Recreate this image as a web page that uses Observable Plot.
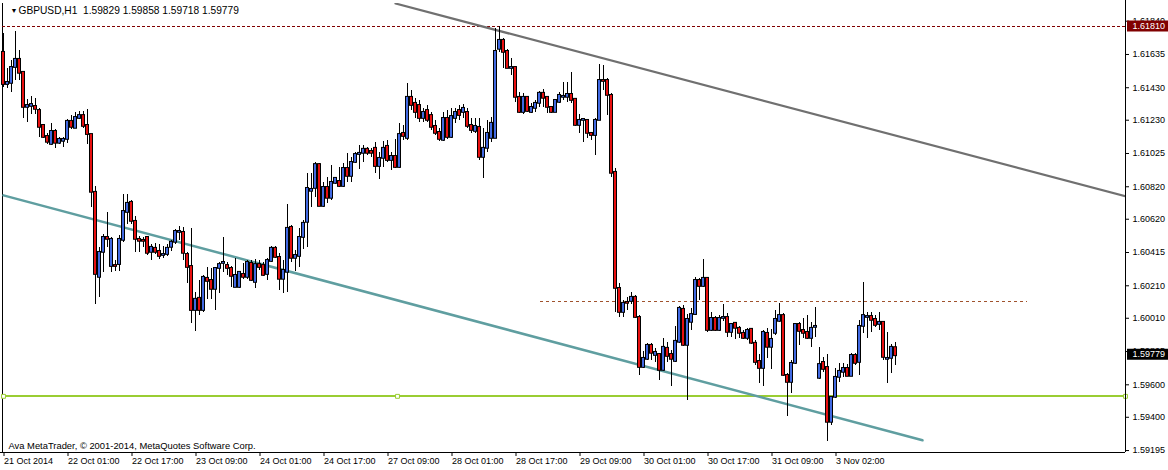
<!DOCTYPE html>
<html><head><meta charset="utf-8">
<script src="https://cdn.jsdelivr.net/npm/d3@7"></script>
<script src="https://cdn.jsdelivr.net/npm/@observablehq/plot@0.6"></script>
<style>html,body{margin:0;padding:0;background:#fff;overflow:hidden}</style>
</head><body><div id="chart"></div>
<script>
const titleText = "GBPUSD,H1  1.59829 1.59858 1.59718 1.59779";
const copyrightText = "Ava MetaTrader, \u00a9 2001-2014, MetaQuotes Software Corp.";
const timeLabels = ["21 Oct 2014","22 Oct 01:00","22 Oct 17:00","23 Oct 09:00","24 Oct 01:00","24 Oct 17:00","27 Oct 09:00","28 Oct 01:00","28 Oct 17:00","29 Oct 09:00","30 Oct 01:00","30 Oct 17:00","31 Oct 09:00","3 Nov 02:00"];
const barsPerLabel = 16;
const priceTicks = [1.61840,1.61635,1.61430,1.61230,1.61025,1.60820,1.60620,1.60415,1.60210,1.60010,1.59805,1.59600,1.59400,1.59195];

const open = [1.61648,1.61450,1.61457,1.61555,1.61605,1.61525,1.61309,1.61315,1.61315,1.61290,1.61198,1.61130,1.61081,1.61161,1.61088,1.61100,1.61112,1.61223,1.61180,1.61241,1.61259,1.61198,1.61142,1.60786,1.60262,1.60416,1.60508,1.60329,1.60335,1.60341,1.60490,1.60662,1.60724,1.60607,1.60496,1.60490,1.60508,1.60416,1.60441,1.60422,1.60397,1.60403,1.60447,1.60478,1.60539,1.60539,1.60403,1.60329,1.60058,1.60133,1.60058,1.60256,1.60243,1.60188,1.60317,1.60348,1.60335,1.60317,1.60200,1.60200,1.60280,1.60262,1.60348,1.60231,1.60341,1.60335,1.60280,1.60360,1.60441,1.60385,1.60250,1.60293,1.60570,1.60379,1.60391,1.60508,1.60601,1.60792,1.60810,1.60957,1.60699,1.60816,1.60749,1.60841,1.60853,1.60822,1.60933,1.60884,1.60970,1.61019,1.61026,1.61051,1.61038,1.61057,1.60945,1.60995,1.61069,1.60982,1.61007,1.60939,1.61149,1.61118,1.61371,1.61334,1.61321,1.61241,1.61290,1.61259,1.61192,1.61155,1.61106,1.61241,1.61124,1.61241,1.61290,1.61278,1.61278,1.61198,1.61161,1.61186,1.61001,1.61057,1.61118,1.61118,1.61667,1.61722,1.61654,1.61549,1.61555,1.61371,1.61278,1.61371,1.61278,1.61303,1.61334,1.61396,1.61371,1.61309,1.61278,1.61340,1.61371,1.61371,1.61389,1.61359,1.61198,1.61229,1.61229,1.61149,1.61136,1.61229,1.61475,1.61475,1.61383,1.60909,1.60194,1.60046,1.60108,1.60114,1.60139,1.60015,1.59707,1.59757,1.59843,1.59781,1.59787,1.59689,1.59825,1.59787,1.59744,1.59862,1.60065,1.59843,1.59985,1.60033,1.60243,1.60206,1.60256,1.59935,1.60009,1.59935,1.60009,1.60015,1.59923,1.59979,1.59948,1.59917,1.59886,1.59942,1.59856,1.59744,1.59701,1.59917,1.59831,1.59917,1.59991,1.60027,1.59658,1.59615,1.59732,1.59972,1.59935,1.59923,1.59886,1.59954,1.59640,1.59738,1.59707,1.59369,1.59523,1.59646,1.59677,1.59701,1.59652,1.59781,1.59738,1.59960,1.60015,1.60021,1.60003,1.59972,1.59985,1.59757,1.59763,1.59829];
const high = [1.61765,1.61549,1.61598,1.61777,1.61660,1.61525,1.61359,1.61377,1.61365,1.61303,1.61204,1.61149,1.61211,1.61174,1.61124,1.61124,1.61235,1.61259,1.61278,1.61284,1.61284,1.61297,1.61142,1.60822,1.60447,1.60526,1.60662,1.60508,1.60366,1.60520,1.60773,1.60773,1.60736,1.60637,1.60514,1.60508,1.60514,1.60465,1.60472,1.60465,1.60453,1.60465,1.60490,1.60558,1.60576,1.60570,1.60416,1.60564,1.60170,1.60243,1.60274,1.60323,1.60317,1.60323,1.60354,1.60508,1.60354,1.60329,1.60379,1.60293,1.60348,1.60366,1.60366,1.60373,1.60366,1.60354,1.60379,1.60453,1.60453,1.60410,1.60366,1.60711,1.60582,1.60428,1.60564,1.60613,1.60903,1.60903,1.60970,1.60964,1.60847,1.60878,1.60951,1.60878,1.60939,1.60964,1.61026,1.61001,1.61032,1.61075,1.61075,1.61063,1.61057,1.61094,1.61032,1.61100,1.61106,1.61032,1.61112,1.61211,1.61198,1.61457,1.61414,1.61365,1.61352,1.61303,1.61321,1.61278,1.61229,1.61180,1.61278,1.61290,1.61303,1.61303,1.61321,1.61327,1.61303,1.61241,1.61241,1.61241,1.61180,1.61229,1.61247,1.61796,1.61810,1.61734,1.61667,1.61611,1.61561,1.61402,1.61396,1.61377,1.61334,1.61352,1.61408,1.61420,1.61371,1.61315,1.61359,1.61402,1.61463,1.61463,1.61525,1.61365,1.61265,1.61241,1.61229,1.61155,1.61241,1.61573,1.61567,1.61488,1.61396,1.60933,1.60225,1.60120,1.60139,1.60170,1.60151,1.60027,1.59806,1.59856,1.59856,1.59825,1.59794,1.59886,1.59862,1.59812,1.59960,1.60083,1.60089,1.60033,1.60071,1.60262,1.60256,1.60373,1.60262,1.60046,1.60021,1.60027,1.60095,1.60040,1.59979,1.59985,1.59960,1.59935,1.59948,1.59948,1.59874,1.59787,1.59935,1.59948,1.59942,1.60058,1.60102,1.60040,1.59671,1.59750,1.59979,1.59985,1.60009,1.60027,1.59985,1.60077,1.59831,1.59769,1.59787,1.59523,1.59701,1.59732,1.59732,1.59725,1.59794,1.59794,1.59997,1.60231,1.60046,1.60046,1.60027,1.60046,1.59985,1.59923,1.59849,1.59858];
const low = [1.61432,1.61426,1.61402,1.61475,1.61475,1.61241,1.61217,1.61265,1.61265,1.61124,1.61118,1.61081,1.61075,1.61057,1.61081,1.61063,1.61088,1.61174,1.61180,1.61235,1.61180,1.61081,1.60693,1.60095,1.60139,1.60293,1.60447,1.60293,1.60299,1.60299,1.60478,1.60588,1.60588,1.60416,1.60416,1.60447,1.60397,1.60366,1.60403,1.60373,1.60379,1.60391,1.60422,1.60465,1.60490,1.60366,1.60225,1.59979,1.59929,1.60027,1.60046,1.60127,1.60127,1.60058,1.60164,1.60293,1.60274,1.60200,1.60200,1.60194,1.60250,1.60250,1.60237,1.60194,1.60305,1.60268,1.60243,1.60354,1.60379,1.60182,1.60164,1.60170,1.60354,1.60299,1.60323,1.60435,1.60447,1.60693,1.60755,1.60699,1.60693,1.60718,1.60736,1.60834,1.60816,1.60816,1.60847,1.60847,1.60964,1.60927,1.60970,1.61013,1.61001,1.60903,1.60866,1.60939,1.60970,1.60921,1.60933,1.60933,1.61106,1.61106,1.61290,1.61241,1.61217,1.61217,1.61217,1.61167,1.61136,1.61100,1.61100,1.61112,1.61118,1.61211,1.61229,1.61241,1.61180,1.61149,1.61149,1.60982,1.60872,1.61032,1.61094,1.61118,1.61648,1.61549,1.61549,1.61506,1.61340,1.61272,1.61265,1.61278,1.61272,1.61278,1.61309,1.61309,1.61272,1.61272,1.61278,1.61334,1.61352,1.61340,1.61334,1.61192,1.61149,1.61094,1.61118,1.61106,1.61013,1.61229,1.61414,1.61259,1.60878,1.60046,1.60015,1.60015,1.60058,1.60095,1.60009,1.59658,1.59701,1.59750,1.59750,1.59738,1.59627,1.59683,1.59738,1.59590,1.59738,1.59856,1.59837,1.59504,1.59935,1.60027,1.60120,1.60200,1.59923,1.59929,1.59929,1.59929,1.59991,1.59892,1.59892,1.59880,1.59886,1.59880,1.59874,1.59849,1.59719,1.59609,1.59590,1.59763,1.59695,1.59904,1.59985,1.59652,1.59405,1.59548,1.59725,1.59843,1.59886,1.59880,1.59831,1.59892,1.59634,1.59677,1.59252,1.59350,1.59517,1.59615,1.59646,1.59652,1.59652,1.59719,1.59658,1.59917,1.59886,1.59923,1.59954,1.59935,1.59750,1.59609,1.59671,1.59718];
const close = [1.61450,1.61463,1.61555,1.61605,1.61519,1.61309,1.61321,1.61327,1.61297,1.61186,1.61124,1.61094,1.61161,1.61088,1.61112,1.61112,1.61223,1.61186,1.61247,1.61259,1.61192,1.61142,1.60786,1.60280,1.60416,1.60508,1.60496,1.60496,1.60329,1.60496,1.60668,1.60718,1.60607,1.60496,1.60484,1.60484,1.60410,1.60447,1.60416,1.60391,1.60403,1.60441,1.60478,1.60545,1.60545,1.60410,1.60323,1.60058,1.60127,1.60058,1.60262,1.60237,1.60188,1.60317,1.60341,1.60354,1.60317,1.60268,1.60274,1.60293,1.60262,1.60354,1.60243,1.60341,1.60323,1.60274,1.60366,1.60441,1.60385,1.60250,1.60305,1.60564,1.60379,1.60397,1.60508,1.60595,1.60810,1.60804,1.60957,1.60699,1.60816,1.60749,1.60847,1.60872,1.60822,1.60933,1.60884,1.60970,1.61019,1.61026,1.61051,1.61026,1.61026,1.60945,1.60995,1.61057,1.60982,1.61007,1.60939,1.61142,1.61130,1.61371,1.61321,1.61278,1.61241,1.61278,1.61229,1.61186,1.61149,1.61112,1.61241,1.61124,1.61253,1.61278,1.61259,1.61303,1.61192,1.61167,1.61192,1.61001,1.61057,1.61149,1.61211,1.61654,1.61722,1.61648,1.61549,1.61555,1.61371,1.61278,1.61371,1.61284,1.61309,1.61334,1.61396,1.61365,1.61309,1.61278,1.61352,1.61383,1.61377,1.61389,1.61352,1.61198,1.61229,1.61235,1.61149,1.61136,1.61229,1.61475,1.61469,1.61383,1.60903,1.60194,1.60046,1.60102,1.60102,1.60139,1.60015,1.59707,1.59763,1.59843,1.59794,1.59800,1.59689,1.59831,1.59775,1.59757,1.59868,1.60071,1.59843,1.60003,1.60033,1.60243,1.60206,1.60256,1.59935,1.60009,1.59935,1.60009,1.60015,1.59923,1.59972,1.59948,1.59917,1.59886,1.59935,1.59856,1.59738,1.59701,1.59923,1.59831,1.59880,1.60003,1.60027,1.59658,1.59615,1.59732,1.59972,1.59929,1.59917,1.59886,1.59948,1.59960,1.59725,1.59695,1.59369,1.59523,1.59646,1.59683,1.59701,1.59652,1.59781,1.59732,1.59960,1.60027,1.60021,1.59997,1.59966,1.59985,1.59769,1.59763,1.59831,1.59779];

// chart objects (bar index, price)
const dayHighLevel = 1.61810;
const resistanceLevel = {price: 1.60114, fromBar: 134.25, toBar: 256};
const supportLevel = 1.59529;
const supportAnchors = [0, 98.5, 280.5];
const upperTrend = [{bar: 98, price: 1.61949}, {bar: 280.5, price: 1.60761}];
const lowerTrend = [{bar: 0, price: 1.60767}, {bar: 229.75, price: 1.59258}];
const lastPrice = close[close.length - 1];

const bars = open.map((o, i) => ({i, o, h: high[i], l: low[i], c: close[i],
  top: Math.max(o, close[i]), bot: Math.min(o, close[i])}));
const bull = "#4169e1", bear = "#e81010";
const bodyColor = d => d.c > d.o ? bull : d.c < d.o ? bear : "#000";
const xMax = 280.5;
const yDomain = [1.59183, 1.61949];
const labelTicks = timeLabels.map((_, k) => k * barsPerLabel);

const plot = Plot.plot({
  width: 1168, height: 470,
  marginLeft: 2, marginRight: 43, marginTop: 3, marginBottom: 18,
  x: {domain: [-0.25, xMax], axis: null},
  y: {domain: yDomain, axis: null},
  style: {fontFamily: "'Liberation Sans', Arial, sans-serif", fontSize: "9px", background: "#fff", color: "#000", overflow: "visible"},
  marks: [
    // left frame line
    Plot.ruleX([-0.25], {stroke: "#000", shapeRendering: "crispEdges"}),
    // axes
    Plot.axisY(priceTicks, {anchor: "right", tickSize: 3, tickPadding: 4, tickFormat: d => d.toFixed(5), fontSize: 9}),
    Plot.axisX(labelTicks, {anchor: "bottom", tickSize: 4, tickPadding: 1, tickFormat: d => timeLabels[d / barsPerLabel], textAnchor: "start", dx: 0.5, fontSize: 9}),
    // levels
    Plot.ruleY([dayHighLevel], {stroke: "#800000", strokeDasharray: "3,2", shapeRendering: "crispEdges"}),
    Plot.ruleY([resistanceLevel], {y: "price", x1: "fromBar", x2: "toBar", stroke: "#a0522d", strokeDasharray: "3,3", shapeRendering: "crispEdges"}),
    Plot.ruleY([supportLevel], {x1: 0, x2: xMax, stroke: "#9acd32", strokeWidth: 2, shapeRendering: "crispEdges"}),
    Plot.line(upperTrend, {x: "bar", y: "price", stroke: "#707070", strokeWidth: 2.2, clip: true}),
    Plot.line(lowerTrend, {x: "bar", y: "price", stroke: "#5f9ea0", strokeWidth: 2.5, clip: true}),
    // candles: wick and body
    Plot.ruleX(bars, {x: "i", y1: "l", y2: "h", stroke: "#000", shapeRendering: "crispEdges"}),
    Plot.rect(bars, {x1: d => d.i - 0.375, x2: d => d.i + 0.375, y1: "bot", y2: "top", fill: bodyColor, stroke: "#000", strokeWidth: 1, insetTop: -0.4, insetBottom: -0.4}),
    Plot.dot(supportAnchors, {x: d => d, y: () => supportLevel, symbol: "square", r: 2.2, fill: "#fff", stroke: "#9acd32", strokeWidth: 1}),
    // bottom & right axis lines
    Plot.ruleY([yDomain[0]], {stroke: "#000", x1: -0.75, x2: xMax, shapeRendering: "crispEdges"}),
    Plot.ruleX([xMax], {stroke: "#000", y1: 1.59183, y2: 1.61968, shapeRendering: "crispEdges"}),
    // price labels in the scale
    Plot.ruleY([dayHighLevel], {x1: 281, x2: 291.25, stroke: "#800000", strokeWidth: 11}),
    Plot.text([dayHighLevel], {y: d => d, frameAnchor: "right", dx: 7, textAnchor: "start", text: d => d.toFixed(5), fill: "#fff", fontSize: 9}),
    Plot.ruleY([lastPrice], {x1: 281, x2: 291.25, stroke: "#000", strokeWidth: 11, dy: -1.5}),
    Plot.text([lastPrice], {y: d => d, frameAnchor: "right", dx: 7, dy: -1.5, textAnchor: "start", text: d => d.toFixed(5), fill: "#fff", fontSize: 9}),
    // texts
    Plot.text(["\u25BC"], {frameAnchor: "top-left", dx: 8, dy: 7, fontSize: 7, fill: "#000", lineAnchor: "middle"}),
    Plot.text([titleText], {frameAnchor: "top-left", dx: 16, dy: 7, textAnchor: "start", lineAnchor: "middle", fontSize: 10.2, fill: "#000"}),
    Plot.text([copyrightText], {frameAnchor: "bottom-left", dx: 6, dy: -7, textAnchor: "start", lineAnchor: "middle", fontSize: 9.4, fill: "#000"})
  ]
});
document.getElementById("chart").appendChild(plot);
</script>
</body></html>
